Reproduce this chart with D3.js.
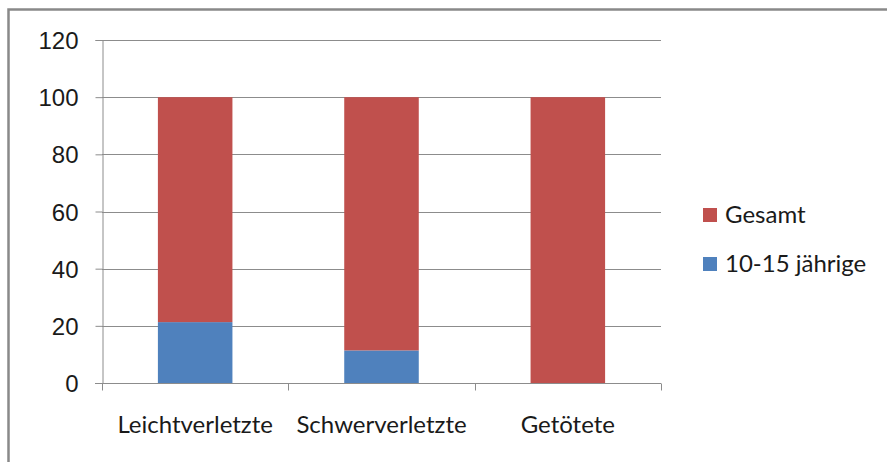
<!DOCTYPE html>
<html>
<head>
<meta charset="utf-8">
<script src="https://cdn.jsdelivr.net/npm/d3@7"></script>
<style>
  body { margin: 0; background: #fff; }
  svg { display: block; font-family: Lato, "Open Sans", sans-serif; }
</style>
</head>
<body>
<svg id="chart" width="887" height="462"></svg>
<script>
// data
const categories = ["Leichtverletzte", "Schwerverletzte", "Getötete"];
const jugendlich = [21.3, 11.4, 0];       // 10-15 jährige
const gesamt = [78.7, 88.6, 100];         // Gesamt (stacked on top, total 100)
const seriesNames = ["10-15 jährige", "Gesamt"];
const seriesColors = ["#4F81BD", "#C0504D"];
const yTicks = [0, 20, 40, 60, 80, 100, 120];

const svg = d3.select("#chart");
const width = 887, height = 462;
const margin = { top: 40, right: 226, bottom: 79, left: 102 };
const fontSize = "24px";

// chart frame
svg.append("path")
    .attr("d", `M8.5,${height + 2} V9.5 H${width + 2}`)
    .attr("fill", "none")
    .attr("stroke", "#898989")
    .attr("stroke-width", 2.5);

const x = d3.scaleBand()
    .domain(categories)
    .range([margin.left, width - margin.right])
    .paddingInner(0.6)
    .paddingOuter(0.3);

const y = d3.scaleLinear()
    .domain([0, 120])
    .range([height - margin.bottom, margin.top]);

// gridlines
svg.append("g")
    .selectAll("line")
    .data(yTicks.filter(d => d > 0))
    .join("line")
    .attr("x1", margin.left)
    .attr("x2", width - margin.right)
    .attr("y1", d => Math.round(y(d)) + 0.5)
    .attr("y2", d => Math.round(y(d)) + 0.5)
    .attr("stroke", "#8c8c8c")
    .attr("stroke-width", 1);

// stacked bars
const rows = categories.map((c, i) => ({ cat: c, "10-15 jährige": jugendlich[i], "Gesamt": gesamt[i] }));
const stack = d3.stack().keys(seriesNames)(rows);

svg.append("g")
    .selectAll("g")
    .data(stack)
    .join("g")
    .attr("fill", (d, i) => seriesColors[i])
    .selectAll("rect")
    .data(d => d)
    .join("rect")
    .attr("x", d => x(d.data.cat))
    .attr("width", x.bandwidth())
    .attr("y", d => y(d[1]))
    .attr("height", d => y(d[0]) - y(d[1]));

// y axis
const yAxis = svg.append("g")
    .attr("transform", `translate(${margin.left + 0.5},0)`)
    .call(d3.axisLeft(y).tickValues(yTicks).tickSize(7).tickPadding(17));
yAxis.selectAll("line, path").attr("stroke", "#8c8c8c");
yAxis.selectAll("text")
    .attr("fill", "#1a1a1a")
    .style("font-size", fontSize)
    .attr("dy", "0.36em");

// x axis with ticks at band boundaries
const xAxisG = svg.append("g")
    .attr("transform", `translate(0,${Math.round(y(0)) + 0.5})`);
xAxisG.append("line")
    .attr("x1", margin.left - 7)
    .attr("x2", width - margin.right)
    .attr("stroke", "#8c8c8c");
const step = (width - margin.right - margin.left) / categories.length;
xAxisG.selectAll(".tk")
    .data(d3.range(categories.length + 1))
    .join("line")
    .attr("class", "tk")
    .attr("x1", i => Math.round(margin.left + i * step) + 0.5)
    .attr("x2", i => Math.round(margin.left + i * step) + 0.5)
    .attr("y1", 0)
    .attr("y2", 7)
    .attr("stroke", "#8c8c8c");
xAxisG.selectAll("text")
    .data(categories)
    .join("text")
    .attr("x", d => x(d) + x.bandwidth() / 2)
    .attr("y", 49)
    .attr("text-anchor", "middle")
    .attr("fill", "#1a1a1a")
    .style("font-size", fontSize)
    .text(d => d);

// legend (Gesamt on top)
const legend = svg.append("g")
    .attr("transform", "translate(703,208)");
const legendItems = legend.selectAll("g")
    .data(["Gesamt", "10-15 jährige"])
    .join("g")
    .attr("transform", (d, i) => `translate(0,${i * 49})`);
legendItems.append("rect")
    .attr("width", 14)
    .attr("height", 14)
    .attr("fill", d => seriesColors[seriesNames.indexOf(d)]);
legendItems.append("text")
    .attr("x", 22)
    .attr("y", 15)
    .attr("fill", "#1a1a1a")
    .style("font-size", fontSize)
    .text(d => d);
</script>
</body>
</html>
